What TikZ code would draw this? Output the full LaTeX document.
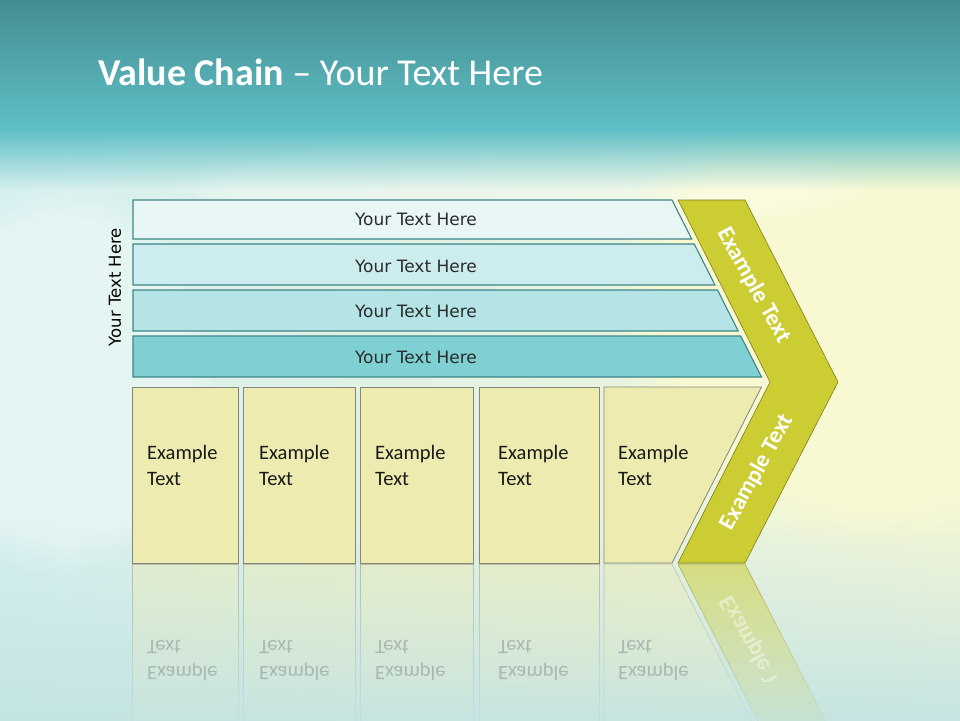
\documentclass[tikz,border=0pt]{standalone}
\usepackage{fontspec}
\setmainfont{Carlito}
\newfontfamily\dejavu{DejaVu Sans}
\usetikzlibrary{fadings}
\definecolor{topA}{HTML}{438C8F}
\definecolor{topB}{HTML}{5FBFC6}
\definecolor{bgL}{HTML}{D4EFF0}
\definecolor{bgR}{HTML}{F2F6D6}
\definecolor{bgBot}{HTML}{C3E3E3}
\definecolor{glowY}{HTML}{F8F9D2}
\definecolor{barA}{HTML}{E8F6F6}
\definecolor{barB}{HTML}{CDECEE}
\definecolor{barC}{HTML}{B4E4E6}
\definecolor{barD}{HTML}{7FD0D3}
\definecolor{barline}{HTML}{3D8587}
\definecolor{bartxt}{HTML}{2B2B2B}
\definecolor{boxfill}{HTML}{EDEBB0}
\definecolor{boxline}{HTML}{85857A}
\definecolor{chevfill}{HTML}{CCCC33}
\definecolor{chevline}{HTML}{7D7D1E}
\definecolor{refltxt}{HTML}{A9B8B2}
\tikzset{
  barshape/.style={draw=barline, line width=1.1pt},
  boxshape/.style={fill=boxfill, draw=boxline, line width=0.8pt},
  chevshape/.style={fill=chevfill, draw=chevline, line width=0.6pt},
  bartext/.style={text=bartxt, font=\dejavu\fontsize{17}{20}\selectfont, inner sep=0pt},
  sidetext/.style={text=black, font=\dejavu\fontsize{16.5}{20}\selectfont, inner sep=0pt, rotate=90},
  boxtext/.style={anchor=west, align=left, text=black!90, font=\fontsize{20.5}{26}\selectfont, inner sep=0pt},
  chevtext/.style={text=white, font=\bfseries\fontsize{23.5}{26}\selectfont, inner sep=0pt},
  refltext/.style={anchor=west, align=left, text=refltxt, font=\fontsize{20.5}{26}\selectfont, inner sep=0pt},
  reflshape/.style={fill=boxfill, draw=boxline, line width=0.6pt, opacity=0.45, path fading=south},
  titletext/.style={text=white, font=\fontsize{38}{44}\selectfont, inner sep=0pt, anchor=base west}
}
\begin{document}
\begin{tikzpicture}[x=1pt,y=-1pt]
\useasboundingbox (0,0) rectangle (960,720);
\clip (0,0) rectangle (960,720);
% background
\shade[left color=bgL, right color=bgR] (-20,120) rectangle (980,740);
\fill[glowY, path fading=circle with fuzzy edge 20 percent] (870,300) ellipse [x radius=260, y radius=250];
\fill[white, opacity=0.3, path fading=circle with fuzzy edge 20 percent] (520,185) ellipse [x radius=360, y radius=50];
\fill[white, opacity=0.35, path fading=circle with fuzzy edge 20 percent] (60,380) ellipse [x radius=160, y radius=200];
\fill[bgBot, path fading=north] (-40,520) rectangle (1000,735);
\shade[top color=topA, bottom color=topB] (-20,-5) rectangle (980,130);
\fill[topB, path fading=south] (-40,129) rectangle (1000,190);
% title
\node[titletext] (title) at (98,85) {\textbf{Value Chain} – Your Text Here};
% top bars
\fill[barA, barshape] (133,200) -- (672,200) -- (691.7,239) -- (133,239) -- cycle;
\fill[barB, barshape] (133,244) -- (694.2,244) -- (715,285) -- (133,285) -- cycle;
\fill[barC, barshape] (133,290) -- (717.5,290) -- (738.2,331) -- (133,331) -- cycle;
\fill[barD, barshape] (133,336) -- (740.7,336) -- (761.5,377) -- (133,377) -- cycle;
\node[bartext] (t1) at (416,219) {Your Text Here};
\node[bartext] (t2) at (416,266) {Your Text Here};
\node[bartext] (t3) at (416,311) {Your Text Here};
\node[bartext] (t4) at (416,357) {Your Text Here};
\node[sidetext] (side) at (115,287) {Your Text Here};
% chevron
\path[chevshape] (678,200) -- (745,200) -- (838,382) -- (745,563) -- (678,563) -- (770,382) -- cycle;
\node[chevtext, rotate=-61] (ch1) at (754,285) {Example Text};
\node[chevtext, rotate=61] (ch2) at (757,472) {Example Text};
% boxes
\path[boxshape] (132,387) rectangle (238,563);
\path[boxshape] (243,387) rectangle (355,563);
\path[boxshape] (360,387) rectangle (473,563);
\path[boxshape] (479,387) rectangle (599,563);
\path[boxshape] (604,387) -- (761.5,387) -- (672,563) -- (604,563) -- cycle;
\node[boxtext] (b1) at (147,465) {Example\\Text};
\node[boxtext] (b2) at (259,465) {Example\\Text};
\node[boxtext] (b3) at (375,465) {Example\\Text};
\node[boxtext] (b4) at (498,465) {Example\\Text};
\node[boxtext] (b5) at (618,465) {Example\\Text};
% reflections
\path[reflshape] (132,564) rectangle (238,740);
\path[reflshape] (243,564) rectangle (355,740);
\path[reflshape] (360,564) rectangle (473,740);
\path[reflshape] (479,564) rectangle (599,740);
\path[reflshape] (604,564) -- (672,564) -- (761.5,740) -- (604,740) -- cycle;
\path[fill=chevfill, draw=chevline, line width=0.6pt, opacity=0.55, path fading=south] (678,564) -- (745,564) -- (838,745) -- (770,745) -- cycle;
\begin{scope}[shift={(0,1126)}, yscale=-1, transform shape]
  \node[refltext] (r1) at (147,465) {Example\\Text};
  \node[refltext] (r2) at (259,465) {Example\\Text};
  \node[refltext] (r3) at (375,465) {Example\\Text};
  \node[refltext] (r4) at (498,465) {Example\\Text};
  \node[refltext] (r5) at (618,465) {Example\\Text};
  \begin{scope}
    \clip (670,563) -- (760,563) -- (850,445) -- (670,445) -- cycle;
    \node[chevtext, rotate=61, opacity=0.45] (rch) at (757,472) {Example Text};
  \end{scope}
\end{scope}
\end{tikzpicture}
\end{document}
